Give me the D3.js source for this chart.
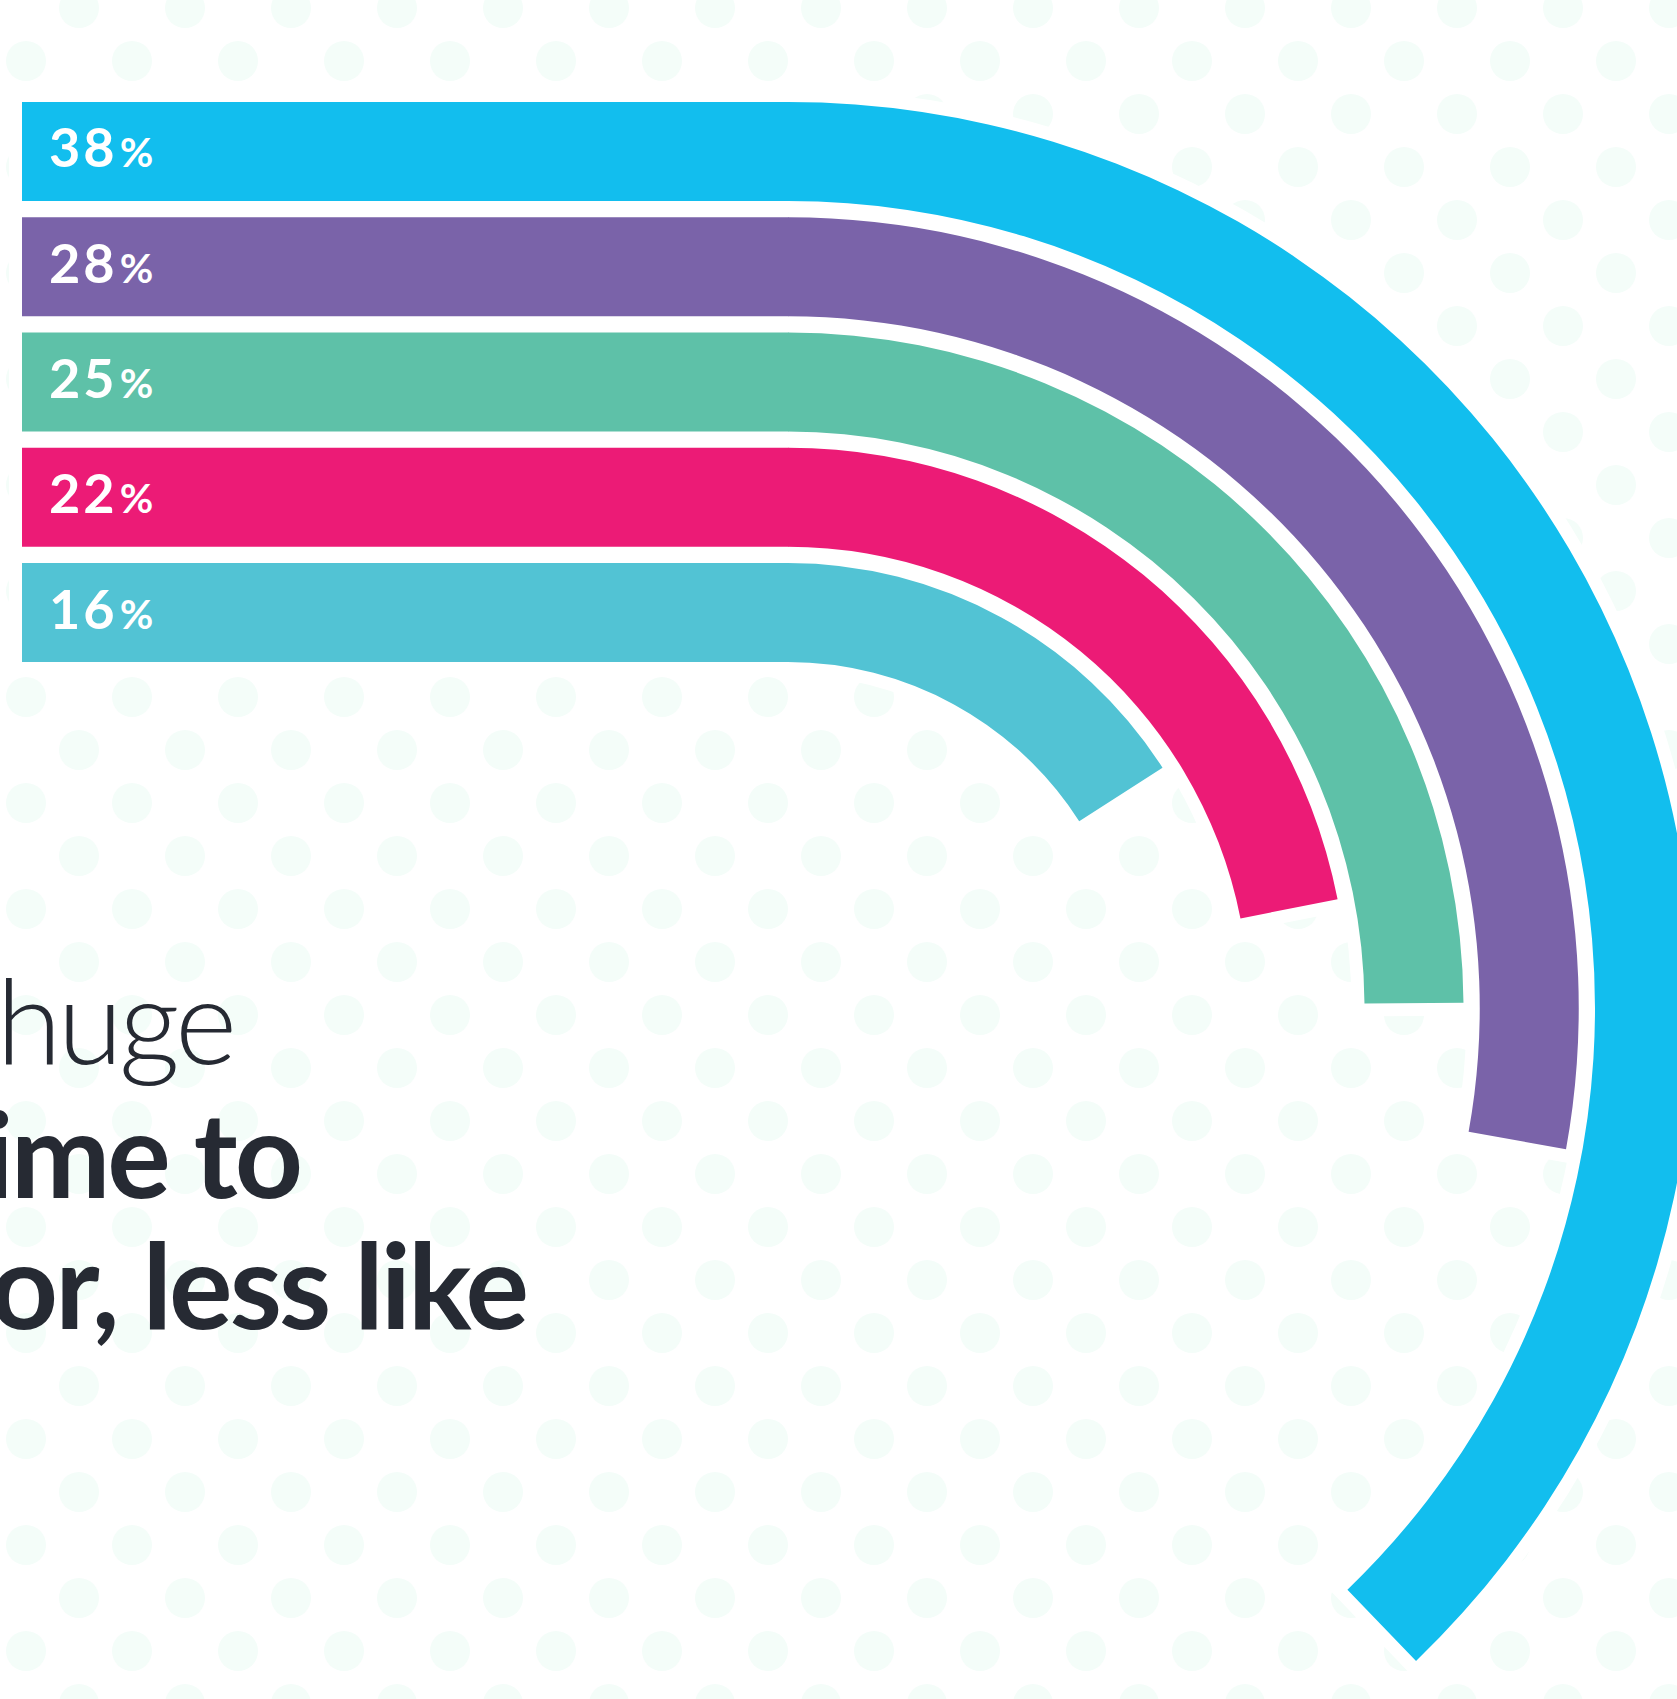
<!DOCTYPE html>
<html>
<head>
<meta charset="utf-8">
<script src="https://cdn.jsdelivr.net/npm/d3@7"></script>
<style>
  html, body { margin: 0; padding: 0; background: #ffffff; }
  svg { display: block; }
</style>
</head>
<body>
<svg id="chart" width="1677" height="1699"></svg>
<script>
// ---- data ----
const categories = ["a", "b", "c", "d", "e"];
const values = [38, 28, 25, 22, 16];
const valueLabels = ["38", "28", "25", "22", "16"];
const colors = ["#12beee", "#7a63a9", "#5ec1a8", "#ec1b76", "#52c3d4"];
const textLines = ["huge", "ime to", "or, less like"];
const textWeights = [300, 700, 700];

// ---- layout ----
const W = 1677, H = 1699;
const cx = 788, cy = 1008;
const barLeft = 22;

const svg = d3.select("#chart");

// dotted background
const dotG = svg.append("g");
const dots = [];
for (let r = -1; r <= 31; r++) {
  const y = 61 + 53 * r;
  const off = (r % 2 === 0) ? 26 : 79;
  for (let x = off - 106; x < W + 106; x += 106) dots.push([x, y]);
}
dotG.selectAll("circle").data(dots).join("circle")
  .attr("cx", d => d[0]).attr("cy", d => d[1]).attr("r", 20)
  .attr("fill", "#f4fdf9");

// scales
const y = d3.scaleBand().domain(categories).range([102, 662]).paddingInner(0.141).paddingOuter(0);
const angle = d3.scaleLinear().domain([0, 100]).range([0, 2 * Math.PI * 0.995]);

const data = categories.map((c, i) => ({
  cat: c, value: values[i], label: valueLabels[i], color: colors[i],
  outer: cy - y(c), inner: cy - y(c) - y.bandwidth()
}));

const arcGen = d3.arc()
  .innerRadius(d => d.inner)
  .outerRadius(d => d.outer)
  .startAngle(0)
  .endAngle(d => angle(d.value));

function shapePath(d) {
  const top = y(d.cat), bot = top + y.bandwidth();
  return `M${barLeft},${top}L${cx + 0.5},${top}L${cx + 0.5},${bot}L${barLeft},${bot}Z`;
}

// white halo layer
const halo = svg.append("g");
data.forEach(d => {
  halo.append("path").attr("d", shapePath(d)).attr("fill", "#fff").attr("stroke", "#fff").attr("stroke-width", 26).attr("stroke-linejoin", "miter");
  halo.append("path").attr("transform", `translate(${cx},${cy})`).attr("d", arcGen(d))
    .attr("fill", "#fff").attr("stroke", "#fff").attr("stroke-width", 26).attr("stroke-linejoin", "miter");
});

// colored shapes
const marks = svg.append("g");
data.forEach(d => {
  marks.append("path").attr("d", shapePath(d)).attr("fill", d.color);
  marks.append("path").attr("transform", `translate(${cx},${cy})`).attr("d", arcGen(d)).attr("fill", d.color);
});

// value labels
const lab = svg.append("g");
data.forEach(d => {
  const t = lab.append("text")
    .attr("x", 49)
    .attr("y", y(d.cat) + y.bandwidth() / 2 + 16)
    .attr("fill", "#ffffff")
    .attr("font-family", "Lato, 'Open Sans', sans-serif")
    .attr("font-weight", 700);
  t.append("tspan").attr("font-size", 54).attr("letter-spacing", 3).text(d.label);
  t.append("tspan").attr("font-size", 41).attr("dx", 2).text("%");
});

// big text, clipped at the left edge
const lineEnds = [233, 300, 526];
const lineBase = [1064, 1198, 1329];
const lineSpacing = [-4, -3, -3];
const txt = svg.append("g");
textLines.forEach((s, i) => {
  txt.append("text")
    .attr("x", lineEnds[i]).attr("y", lineBase[i])
    .attr("text-anchor", "end")
    .attr("font-family", "Lato, sans-serif")
    .attr("font-weight", textWeights[i])
    .attr("font-size", 119)
    .attr("letter-spacing", lineSpacing[i])
    .attr("fill", "#262a33")
    .text(s);
});
</script>
</body>
</html>
